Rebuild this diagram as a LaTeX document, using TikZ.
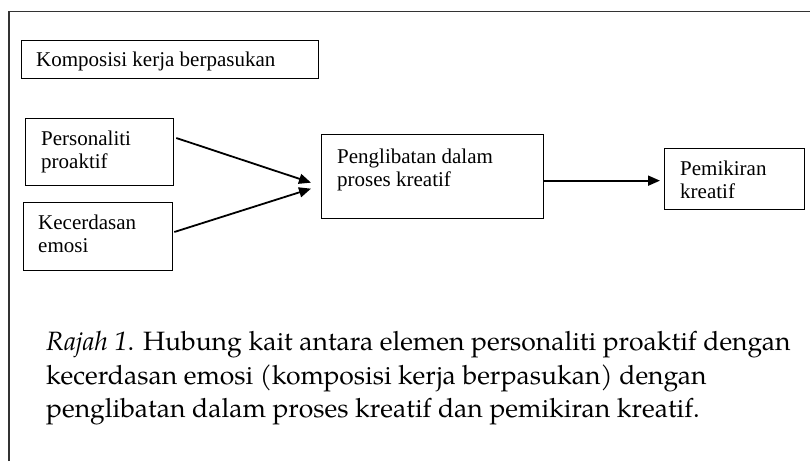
\documentclass[tikz,border=0pt]{standalone}
\usepackage{fontspec}
\newfontfamily\tms{Liberation Serif}
\newfontfamily\pal{TeX Gyre Pagella}
\usetikzlibrary{arrows.meta,calc}
\begin{document}
\begin{tikzpicture}[x=1pt,y=-1pt,
  box/.style={draw=black, line width=1.3pt, rectangle, inner sep=0pt, anchor=north west},
  lbl/.style={font=\tms\fontsize{21}{23}\selectfont, anchor=base west, inner sep=0pt, align=left},
  capt/.style={font=\pal\fontsize{26.5}{33.5}\selectfont, anchor=base west, inner sep=0pt, text=black},
  arr/.style={line width=1.8pt, -{Triangle[length=12pt,width=10pt]}}]
\useasboundingbox (0,0) rectangle (810,461);
\draw[line width=1.1pt, draw=black!80] (9,461) -- (9,11.5) -- (810,11.5);
% boxes
\node[box, minimum width=297pt, minimum height=38pt] (komp) at (21,40) {};
\node[box, minimum width=148pt, minimum height=67pt] (pers) at (25,118) {};
\node[box, minimum width=149pt, minimum height=68pt] (kec) at (23,202) {};
\node[box, minimum width=222pt, minimum height=84pt] (peng) at (321,134) {};
\node[box, minimum width=140pt, minimum height=61pt] (pem) at (664,148) {};
% labels (base anchor = baseline of the last line)
\node[lbl] (kompt) at (36,66) {Komposisi kerja berpasukan};
\node[lbl] (perst) at (41,168) {Personaliti\\proaktif};
\node[lbl] (kect) at (38,252) {Kecerdasan\\emosi};
\node[lbl] (pengt) at (337,186) {Penglibatan dalam\\proses kreatif};
\node[lbl] (pemt) at (680,198) {Pemikiran\\kreatif};
% arrows
\draw[arr] ($(pers.north east)+(2,20)$) -- ($(peng.west)+(-10,6)$);
\draw[arr] ($(kec.north east)+(1,30)$) -- ($(peng.west)+(-10,12)$);
\draw[arr] ($(peng.east)+(0,4)$) -- ($(pem.west)+(-4,1.5)$);
% caption
\node[capt] (cap1) at (46,350) {\textit{Rajah 1}. Hubung kait antara elemen personaliti proaktif dengan};
\node[capt] (cap2) at (46,384) {kecerdasan emosi (komposisi kerja berpasukan) dengan};
\node[capt] (cap3) at (46,417) {penglibatan dalam proses kreatif dan pemikiran kreatif.};
\end{tikzpicture}
\end{document}
